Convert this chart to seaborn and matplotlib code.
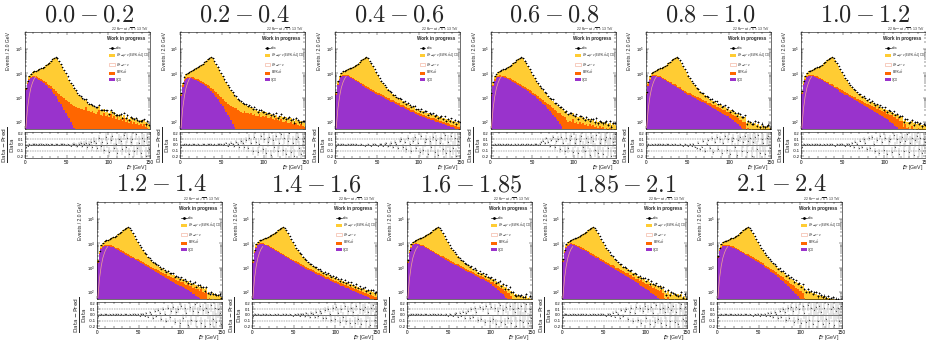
import numpy as np
import pandas as pd
import matplotlib
matplotlib.use("Agg")
import matplotlib.pyplot as plt
import seaborn as sns
from matplotlib.patches import Patch
from matplotlib.lines import Line2D
from matplotlib.ticker import LogLocator, MultipleLocator, FixedLocator, NullFormatter

sns.set_style("ticks")
plt.rcParams['font.family'] = ['Liberation Sans', 'DejaVu Sans']

# ---------------- data (values are log10(events) * 100, bins of 2 GeV, 0-150 GeV) -------------
eta_edges = ["0.0", "0.2", "0.4", "0.6", "0.8", "1.0", "1.2", "1.4", "1.6", "1.85", "2.1", "2.4"]
met_bin_edges = [float(v) for v in np.arange(0, 152, 2)]

# W -> mu nu (shared shape)
wmu_log = [250, 300, 330, 342, 352, 362, 372, 382, 392, 400, 408, 416, 424, 432, 440,
           448, 455, 461, 464, 460, 450, 438, 425, 411, 397, 383, 369, 356, 344, 333,
           320, 309, 296, 288, 277, 271, 261, 256, 247, 243, 235, 231, 224, 221, 214,
           212, 205, 204, 198, 196, 190, 191, 184, 185, 179, 181, 175, 177, 170, 173,
           166, 169, 163, 166, 160, 163, 157, 160, 154, 158, 151, 155, 149, 152, 146]
# W -> tau nu outline at low MET (first bins)
wtau_log = [175, 255, 305, 340, 362, 378, 388]

# QCD per eta bin (bins after the listed ones are below the axis)
qcd_p1 = [330, 355, 372, 381, 384, 384, 382, 379, 375, 370, 365, 359, 353, 347, 341,
          334, 325, 316, 306, 295, 284, 273, 262, 250, 238, 226, 214, 201, 188, 175,
          162, 148]
qcd_p2 = [305, 345, 368, 378, 381, 381, 380, 378, 375, 372, 369, 365, 361, 357, 352,
          347, 341, 334, 327, 319, 311, 303, 294, 284, 274, 264, 253, 242, 230, 218,
          206, 193, 180, 167, 154]
qcd_p3 = [310, 352, 375, 386, 390, 391, 390, 388, 385, 381, 377, 373, 368, 364, 359,
          355, 350, 346, 341, 337, 333, 329, 324, 320, 316, 312, 309, 305, 302, 298,
          295, 291, 288, 284, 281, 277, 274, 270, 267, 263, 260, 256, 253, 249, 246,
          242, 239, 235, 232, 228, 226, 223, 221, 218, 216, 213, 211, 209, 206, 204,
          201, 199, 196, 194, 191, 189, 187, 184, 182, 179, 177, 174, 172, 169, 167]
qcd_p4 = [305, 348, 370, 381, 386, 387, 386, 385, 383, 380, 377, 374, 370, 366, 362,
          358, 354, 350, 345, 341, 336, 331, 326, 321, 316, 311, 305, 299, 293, 287,
          281, 275, 268, 261, 254, 246, 238, 230, 221, 212, 202, 192, 181, 170, 159]
qcd_p5 = [310, 350, 373, 384, 389, 390, 389, 387, 384, 381, 377, 373, 369, 365, 361,
          357, 352, 348, 344, 339, 335, 330, 326, 321, 317, 313, 310, 306, 302, 299,
          295, 291, 288, 284, 280, 276, 273, 269, 265, 261, 257, 254, 250, 246, 242,
          238, 234, 230, 226, 222, 217, 212, 207, 201, 195, 189, 182, 175, 168, 160]
qcd_p6 = [315, 352, 374, 385, 390, 391, 390, 388, 386, 383, 379, 376, 372, 368, 364,
          360, 356, 351, 347, 343, 338, 334, 330, 325, 321, 317, 313, 309, 305, 301,
          297, 293, 289, 285, 281, 277, 273, 269, 265, 261, 257, 253, 249, 245, 241,
          237, 233, 229, 225, 220, 216, 211, 206, 201, 196, 190, 184, 178, 172, 165,
          158]
qcd_p7 = [318, 355, 376, 386, 390, 391, 390, 389, 387, 384, 381, 377, 374, 370, 366,
          362, 358, 354, 350, 346, 342, 338, 334, 330, 326, 322, 318, 314, 310, 306,
          302, 298, 294, 290, 286, 282, 278, 274, 270, 266, 262, 258, 254, 250, 246,
          242, 238, 234, 230, 226, 222, 218, 214, 210, 206, 202, 198, 193, 189, 184,
          180, 175, 170, 165, 160, 155]
qcd_p8 = [320, 360, 383, 393, 397, 398, 397, 395, 392, 389, 385, 381, 377, 372, 368,
          364, 359, 355, 351, 347, 343, 339, 335, 331, 327, 323, 319, 315, 311, 307,
          303, 300, 296, 292, 289, 285, 282, 278, 275, 271, 268, 264, 261, 258, 254,
          251, 248, 245, 241, 238, 235, 232, 229, 226, 223, 220, 217, 214, 211, 208,
          205, 202, 199, 196, 193, 190, 187, 184, 181, 178, 175, 172, 169, 166, 163]
qcd_p9 = [320, 360, 383, 393, 396, 397, 396, 394, 391, 388, 384, 380, 376, 372, 368,
          364, 360, 356, 352, 348, 344, 340, 336, 332, 328, 324, 320, 316, 312, 309,
          306, 302, 298, 295, 291, 287, 284, 280, 276, 273, 269, 265, 262, 258, 254,
          251, 247, 243, 240, 236, 231, 226, 221, 215, 209, 203, 197, 190, 183, 176,
          169, 162, 155]
qcd_p10 = [325, 360, 381, 391, 395, 396, 395, 393, 390, 387, 383, 379, 375, 371, 367,
           363, 358, 354, 350, 346, 342, 338, 333, 329, 325, 321, 317, 312, 308, 304,
           300, 296, 291, 287, 283, 279, 274, 270, 266, 261, 257, 253, 248, 244, 239,
           235, 230, 226, 221, 216, 212, 207, 202, 197, 192, 187, 182, 176, 171, 165,
           159]
qcd_p11 = [340, 370, 383, 389, 391, 391, 390, 388, 386, 383, 380, 376, 372, 368, 364,
           360, 356, 352, 348, 344, 340, 336, 331, 327, 323, 318, 314, 309, 304, 299,
           294, 289, 284, 279, 273, 268, 262, 256, 250, 244, 238, 232, 225, 218, 211,
           204, 197, 189, 181, 173, 165, 157]

# EWK + ttbar per eta bin
ewk_p1 = [230, 268, 285, 295, 300, 301, 301, 300, 299, 298, 297, 296, 295, 293, 291,
          290, 290, 289, 288, 287, 285, 283, 281, 279, 277, 273, 270, 266, 262, 258,
          257, 254, 258, 252, 255, 249, 262, 246, 243, 240, 244, 236, 233, 241, 250,
          228, 226, 235, 222, 229, 218, 232, 214, 224, 210, 219, 206, 213, 202, 215,
          199, 207, 196, 203, 193, 200, 190, 196, 186, 192, 183, 190, 180, 176, 172]
ewk_p2 = [225, 262, 280, 290, 295, 297, 297, 296, 295, 294, 293, 292, 291, 290, 288,
          287, 286, 285, 283, 281, 279, 277, 274, 271, 268, 265, 262, 259, 256, 253,
          250, 252, 247, 249, 244, 246, 241, 238, 243, 235, 238, 232, 236, 229, 233,
          226, 224, 231, 221, 226, 219, 223, 216, 214, 220, 211, 209, 215, 206, 204,
          210, 201, 199, 205, 196, 194, 200, 191, 189, 195, 186, 184, 190, 181, 179]
ewk_p3 = [220, 255, 272, 282, 287, 289, 289, 288, 287, 285, 283, 281, 279, 277, 275,
          273, 271, 269, 266, 263, 260, 257, 254, 251, 248, 244, 241, 237, 234, 230,
          227, 223, 224, 216, 213, 215, 206, 203, 207, 196, 193, 198, 186, 183, 188,
          177, 174, 180, 168, 165, 171, 160, 157, 163, 152, 149, 156, 144, 142, 148,
          137, 135, 133, 131, 129, 127, 125, 123, 121, 119, 117, 115, 113, 111, 109]
ewk_p4 = [225, 262, 280, 290, 295, 296, 296, 295, 294, 292, 290, 288, 286, 284, 282,
          280, 278, 276, 273, 270, 267, 264, 261, 258, 255, 252, 249, 246, 243, 240,
          237, 234, 231, 233, 226, 229, 221, 224, 216, 219, 212, 215, 208, 211, 205,
          209, 201, 204, 199, 212, 196, 200, 193, 198, 190, 195, 187, 192, 184, 189,
          181, 186, 178, 184, 176, 181, 173, 178, 171, 176, 168, 175, 166, 172, 163]
ewk_p5 = [222, 258, 274, 284, 288, 290, 290, 289, 288, 286, 284, 282, 280, 278, 276,
          274, 272, 269, 266, 263, 260, 257, 254, 251, 248, 245, 241, 238, 234, 231,
          228, 232, 225, 226, 229, 218, 222, 213, 216, 212, 206, 211, 203, 207, 199,
          202, 195, 199, 190, 197, 187, 192, 183, 189, 180, 186, 175, 181, 171, 178,
          168, 174, 163, 169, 160, 166, 155, 162, 152, 158, 148, 154, 145, 150, 141]
ewk_p6 = [228, 265, 282, 292, 296, 298, 298, 297, 296, 294, 292, 290, 288, 286, 284,
          282, 280, 278, 275, 272, 269, 266, 263, 260, 257, 254, 251, 248, 245, 242,
          239, 236, 240, 231, 234, 227, 230, 223, 226, 219, 229, 215, 218, 211, 214,
          207, 218, 203, 206, 200, 210, 196, 199, 192, 202, 189, 192, 185, 195, 182,
          185, 178, 190, 175, 178, 172, 182, 168, 171, 165, 175, 162, 165, 158, 161]
ewk_p7 = [226, 263, 281, 291, 296, 297, 297, 296, 295, 293, 291, 289, 287, 285, 283,
          281, 279, 277, 274, 271, 268, 265, 262, 259, 256, 253, 250, 247, 244, 241,
          238, 235, 232, 229, 226, 231, 222, 219, 225, 215, 212, 220, 208, 214, 205,
          202, 210, 199, 196, 206, 193, 201, 190, 187, 198, 184, 193, 181, 188, 178,
          185, 175, 190, 172, 169, 180, 166, 175, 163, 170, 160, 167, 157, 163, 154]
ewk_p8 = [218, 252, 270, 280, 285, 287, 287, 286, 285, 283, 281, 279, 277, 275, 273,
          271, 269, 267, 264, 261, 258, 255, 252, 249, 246, 243, 240, 237, 234, 231,
          228, 225, 222, 219, 216, 213, 210, 207, 204, 201, 198, 195, 192, 189, 186,
          183, 180, 184, 176, 173, 178, 169, 166, 172, 162, 159, 166, 155, 152, 158,
          148, 145, 151, 141, 138, 145, 134, 131, 138, 127, 124, 131, 120, 117, 124]
ewk_p9 = [220, 256, 274, 284, 289, 291, 291, 290, 289, 287, 285, 283, 281, 279, 277,
          275, 273, 271, 268, 265, 262, 259, 256, 253, 250, 247, 244, 241, 238, 235,
          232, 229, 226, 223, 220, 224, 214, 211, 217, 205, 202, 209, 196, 193, 200,
          190, 197, 185, 182, 190, 178, 185, 173, 180, 169, 176, 165, 172, 160, 167,
          157, 164, 153, 160, 150, 156, 146, 152, 143, 149, 140, 146, 136, 142, 133]
ewk_p10 = [224, 260, 278, 288, 293, 295, 295, 294, 293, 291, 289, 287, 285, 283, 281,
           279, 277, 275, 272, 269, 266, 263, 260, 257, 254, 251, 248, 245, 242, 239,
           236, 233, 230, 234, 224, 227, 219, 222, 215, 225, 210, 213, 206, 216, 201,
           204, 197, 207, 193, 196, 189, 199, 185, 188, 181, 191, 178, 181, 174, 184,
           171, 174, 167, 177, 164, 167, 160, 170, 157, 160, 153, 163, 150, 153, 146]
ewk_p11 = [222, 258, 276, 286, 291, 293, 293, 292, 291, 289, 287, 285, 283, 281, 279,
           277, 275, 273, 270, 267, 264, 261, 258, 255, 252, 249, 246, 243, 240, 237,
           234, 231, 228, 225, 222, 219, 216, 213, 210, 207, 204, 201, 198, 195, 192,
           189, 192, 183, 186, 177, 181, 171, 175, 165, 168, 159, 162, 153, 156, 147,
           144, 141, 138, 135, 132, 129, 126, 123, 120, 117, 114, 111, 108, 105, 102]

# (Data - Pred) / Data, in percent
ratio_p1 = [-4, -1, 1, 0, 1, 2, 1, 0, 1, 2, 1, 0, 1, 1, 0,
            2, 1, 0, 1, 1, 0, 1, 2, 1, 0, 1, 0, -1, 1, 2,
            0, -2, 1, 3, -1, 2, 4, -3, 1, 5, -4, 8, 3, -6, 12,
            -2, 6, -9, 14, 3, -12, 9, 16, -5, 2, -15, 11, 7, -8, 18,
            -3, 13, -17, 6, 10, -11, 19, -6, 4, -14, 12, 8, -19, 15, -7]
ratio_p2 = [-3, 0, 1, 1, 0, 1, 0, 1, 1, 0, 1, 0, 0, 1, 1,
            0, 1, 2, 1, 0, 1, 0, 1, 2, 1, 0, 1, 3, -1, 2,
            4, 1, -2, 5, 2, -4, 7, 3, -3, 9, -6, 13, 4, -10, 15,
            6, -12, 2, 17, -8, 11, -15, 5, 14, -18, 9, -4, 16, -11, 3,
            19, -9, 12, -16, 7, 21, -13, 4, -20, 10, 15, -6, -17, 8, 13]
ratio_p3 = [-2, 1, 0, 1, 1, 0, 0, 1, 0, 1, 1, 0, 1, 0, 0,
            1, 0, -1, 0, 1, 0, -1, 1, 2, 0, -1, 1, 2, -2, 1,
            3, -2, 0, 4, -3, 5, 1, -5, 7, 10, -4, 6, -8, 12, 2,
            -10, 8, 14, -6, 3, -13, 16, -9, 5, 11, -16, 7, -3, 15, -12,
            9, -18, 4, 13, -7, 18, -14, 6, -10, 17, -5, 12, -19, 8, 14]
ratio_p4 = [-3, 0, 1, 0, 1, 1, 0, 1, 0, 1, 1, 0, 1, 0, 1,
            0, 1, 0, 1, 1, 0, 1, 1, 0, 1, 0, 1, 2, 0, 1,
            5, 8, 3, 12, 6, -2, 9, 14, -4, 7, 11, -8, 15, 3, -10,
            13, -6, 9, 17, -12, 4, 10, -15, 8, 16, -3, -11, 12, 5, -18,
            14, 7, -9, 18, -14, 3, 11, -17, 9, 15, -5, 13, -20, 6, 19]
ratio_p5 = [-2, 1, 0, 1, 0, 1, 0, 1, 1, 0, 1, 0, 1, 1, 0,
            1, 0, 1, 0, 0, 1, 0, -1, 1, 0, -2, 1, -1, 2, -3,
            -6, 4, -8, -3, 7, -10, 2, 9, -5, 12, -12, 6, 15, -7, 10,
            -14, 4, 16, -9, 11, -16, 7, 13, -4, -18, 9, 14, -11, 5, 17,
            -13, 8, 12, -19, 6, 15, -8, 18, -15, 10, 4, -17, 13, 16, -6]
ratio_p6 = [-3, 1, 0, 1, 1, 0, 1, 0, 1, 1, 0, 1, 0, 1, 0,
            1, 0, 1, 1, 0, -1, 1, 0, 1, 2, 0, -1, 2, 1, -2,
            3, -4, 6, 2, -5, 8, -3, 10, 4, -8, 12, -6, 14, 1, -11,
            9, -14, 16, 5, -9, 13, -17, 7, 11, -12, 18, -4, 10, -16, 6,
            15, -10, 8, 19, -13, 4, 12, -18, 9, 16, -7, 13, -15, 11, 5]
ratio_p7 = [-2, 0, 1, 0, 1, 1, 0, 1, 0, 1, 0, 1, 1, 0, 1,
            0, 1, 1, 0, 1, 0, 1, 2, 0, 1, -1, 2, 1, -2, 3,
            -3, 5, 1, -5, 7, -2, 9, 4, -7, 11, 2, -10, 13, -4, 8,
            15, -12, 6, 10, -15, 17, -6, 12, 3, -18, 14, -9, 7, 19, -11,
            5, 16, -14, 9, -19, 12, 6, -16, 18, -8, 13, -12, 10, 4, -17]
ratio_p8 = [-1, 1, 0, 1, 0, 0, 1, 0, 1, 0, 1, 0, 0, 1, 0,
            1, 0, 0, 1, 0, 1, 0, 1, 0, -1, 1, 0, 1, -1, 2,
            1, -2, 3, 0, -3, 4, 2, -4, 6, -2, 7, 3, -6, 9, -5,
            10, 2, -9, 12, -7, 14, 4, -12, 11, -3, 16, -10, 8, -15, 13,
            6, -14, 17, -8, 11, -17, 9, 15, -11, 5, -18, 12, 18, -9, 7]
ratio_p9 = [-2, 0, 1, 1, 0, 1, 1, 0, 1, 0, 1, 1, 0, 1, 0,
            1, 1, 0, 1, 0, 1, 0, 0, 1, -1, 2, 0, -2, 1, 3,
            -3, 4, -1, 6, -5, 3, 8, -6, 10, -3, 12, 5, -9, 14, -7,
            11, -13, 16, 4, -11, 15, -8, 13, -16, 7, 18, -12, 9, -17, 14,
            -5, 17, -14, 10, 6, -19, 13, -9, 16, -12, 8, 19, -15, 11, -6]
ratio_p10 = [-3, 1, 1, 0, 1, 0, 1, 1, 0, 1, 0, 1, 1, 0, 1,
             0, 1, 0, 1, 1, 0, 1, 0, 2, 1, 0, -1, 2, 1, -2,
             4, -3, 6, 2, -5, 9, -2, 7, 11, -8, 5, 13, -11, 3, 15,
             -9, 12, -14, 8, 16, -6, 10, -17, 14, 4, -12, 18, -7, 11, -15,
             13, 6, -18, 15, -10, 9, 17, -13, 5, -16, 12, 19, -8, 14, -11]
ratio_p11 = [-3, 0, 1, 0, 1, 1, 0, 1, 1, 0, 1, 0, 1, 0, 1,
             0, 1, 1, 0, 1, 0, -1, 1, 0, 2, -1, 1, 0, 2, -2,
             3, -1, 4, -4, 6, 2, -6, 8, -3, 10, 5, -9, 12, -5, 14,
             7, -12, 15, -7, 11, -15, 16, 4, -13, 18, -9, 12, -17, 9, 14,
             -11, 17, 6, -16, 13, -8, 19, -14, 10, 15, -18, 7, 12, -10, 16]

qcd_all = [qcd_p1, qcd_p2, qcd_p3, qcd_p4, qcd_p5, qcd_p6, qcd_p7, qcd_p8, qcd_p9, qcd_p10, qcd_p11]
ewk_all = [ewk_p1, ewk_p2, ewk_p3, ewk_p4, ewk_p5, ewk_p6, ewk_p7, ewk_p8, ewk_p9, ewk_p10, ewk_p11]
ratio_all = [ratio_p1, ratio_p2, ratio_p3, ratio_p4, ratio_p5, ratio_p6, ratio_p7, ratio_p8,
             ratio_p9, ratio_p10, ratio_p11]

# ---------------- style ----------------
COL_W = '#ffcc33'
COL_EWK = '#ff6600'
COL_QCD = '#9933cc'
COL_TAU = '#f2a890'
legend_labels = ["data", r"W$^{+}\!\rightarrow\!\mu^{+}\nu$ (EWK+t$\bar{t}$+QCD)",
                 r"W$^{+}\!\rightarrow\!\tau^{+}\nu$", r"EWK+t$\bar{t}$", "QCD"]

FW, FH = 926, 342
fig = plt.figure(figsize=(FW / 100, FH / 100), dpi=100)


def px_axes(x0, y0, w, h):
    return fig.add_axes([x0 / FW, 1 - (y0 + h) / FH, w / FW, h / FH])


def to_counts(arr, n=75):
    v = np.zeros(n)
    a = np.asarray(arr, dtype=float)
    v[:len(a)] = np.where(a > 0, 10 ** (a / 100.0), 0.0)
    return v


edges_arr = np.asarray(met_bin_edges)
centers = (edges_arr[:-1] + edges_arr[1:]) / 2.0
w_counts = to_counts(wmu_log)
tau_counts = to_counts(wtau_log, len(wtau_log))


def style_axes(ax):
    for s in ax.spines.values():
        s.set_linewidth(0.4)
        s.set_color('black')
    ax.tick_params(which='both', direction='in', top=True, right=True, width=0.3,
                   labelsize=3, pad=1.2, colors='black')
    ax.tick_params(which='major', length=2.0)
    ax.tick_params(which='minor', length=1.1)


panel_pos = [(0, 0), (155.2, 0), (310.4, 0), (465.6, 0), (620.8, 0), (776, 0),
             (72, 170), (227, 170), (382, 170), (537, 170), (692, 170)]

for i, (ox, oy) in enumerate(panel_pos):
    qcd = to_counts(qcd_all[i])
    ewk = to_counts(ewk_all[i])
    r = np.asarray(ratio_all[i], dtype=float) / 100.0
    pred = qcd + ewk + w_counts
    data = pred / (1.0 - r)
    rerr = 1.3 / np.sqrt(data)

    df = pd.DataFrame({
        'met': np.concatenate([centers, centers, centers]),
        'weight': np.concatenate([w_counts, ewk, qcd]),
        'process': ['W'] * 75 + ['EWK'] * 75 + ['QCD'] * 75,
    })

    ax = px_axes(ox + 25, oy + 31.7, 125, 97.6)
    sns.histplot(data=df, x='met', weights='weight', hue='process',
                 hue_order=['W', 'EWK', 'QCD'], multiple='stack', bins=met_bin_edges,
                 element='step', fill=True, alpha=1.0, linewidth=0,
                 palette={'W': COL_W, 'EWK': COL_EWK, 'QCD': COL_QCD},
                 legend=False, ax=ax, log_scale=(False, True))
    sns.lineplot(x=centers[:len(wtau_log)], y=tau_counts, ax=ax, color=COL_TAU,
                 lw=0.5, zorder=4)
    ax.errorbar(centers, data, xerr=1.0, yerr=np.sqrt(data), fmt='o', ms=1.1,
                color='black', mew=0, elinewidth=0.45, capsize=0, zorder=5)
    ax.set_yscale('log')
    ax.set_xlim(0, 150)
    ax.set_ylim(10 ** 1.69, 10 ** 5.73)
    ax.set_xlabel('')
    ax.set_ylabel('')
    ax.xaxis.set_major_locator(MultipleLocator(50))
    ax.xaxis.set_minor_locator(MultipleLocator(10))
    ax.yaxis.set_major_locator(LogLocator(base=10, numticks=10))
    ax.yaxis.set_minor_locator(LogLocator(base=10, subs=np.arange(2, 10), numticks=20))
    ax.yaxis.set_minor_formatter(NullFormatter())
    style_axes(ax)
    ax.tick_params(labelbottom=False)

    handles = [Line2D([], [], color='black', marker='o', ms=1.0, lw=0.5),
               Patch(facecolor=COL_W, edgecolor='none'),
               Patch(facecolor='white', edgecolor=COL_TAU, linewidth=0.4),
               Patch(facecolor=COL_EWK, edgecolor='none'),
               Patch(facecolor=COL_QCD, edgecolor='none')]
    ax.legend(handles, legend_labels, loc='upper left', bbox_to_anchor=(0.675, 0.855),
              fontsize=2.0, frameon=False, handlelength=2.0, handleheight=1.2,
              labelspacing=0.45, borderpad=0, handletextpad=0.4, borderaxespad=0)
    ax.text(0.81, 0.935, "Work in progress", transform=ax.transAxes, ha='center',
            va='center', fontsize=3.3, fontweight='bold')

    rax = px_axes(ox + 25, oy + 131.7, 125, 26.6)
    rax.axhline(0.0, color='black', lw=0.4, zorder=1)
    rax.axhline(0.1, color='#555555', lw=0.35, ls=(0, (3, 2)), zorder=1)
    rax.axhline(-0.1, color='#555555', lw=0.35, ls=(0, (3, 2)), zorder=1)
    rax.errorbar(centers, r, xerr=1.0, yerr=rerr, fmt='o', ms=0.8, color='#444444',
                 ecolor='#8a8a8a', mew=0, elinewidth=0.3, capsize=0, zorder=3)
    rax.set_xlim(0, 150)
    rax.set_ylim(-0.24, 0.24)
    rax.xaxis.set_major_locator(FixedLocator([0, 50, 100, 150]))
    rax.xaxis.set_minor_locator(MultipleLocator(10))
    rax.set_yticks([-0.2, -0.1, 0.0, 0.1, 0.2])
    rax.set_yticklabels(["-0.2", "-0.1", "0.0", "0.1", "0.2"])
    rax.yaxis.set_minor_locator(MultipleLocator(0.05))
    style_axes(rax)
    rax.tick_params(axis='x', labelsize=3.4, pad=1.0)

    # texts
    fig.text((ox + 89) / FW, 1 - (oy + 15) / FH, f"${eta_edges[i]} - {eta_edges[i + 1]}$",
             ha='center', va='center', fontsize=17.5, math_fontfamily='cm')
    fig.text((ox + 149) / FW, 1 - (oy + 28.5) / FH,
             r"2.2 fb$^{-1}$ at $\sqrt{s}$ = 13 TeV", ha='right', va='center', fontsize=2.4)
    fig.text((ox + 9) / FW, 1 - (oy + 32) / FH, "Events / 2.0 GeV", rotation=90,
             ha='center', va='top', fontsize=3.6)
    fig.text((ox + 9) / FW, 1 - (oy + 145) / FH,
             r"$\frac{\mathrm{Data-Pred}}{\mathrm{Data}}$", rotation=90,
             ha='center', va='center', fontsize=6.0)
    fig.text((ox + 148) / FW, 1 - (oy + 168) / FH, r"$E\!\!\!/_{T}$ [GeV]",
             ha='right', va='center', fontsize=3.8)

fig.savefig("out.png", dpi=100)
